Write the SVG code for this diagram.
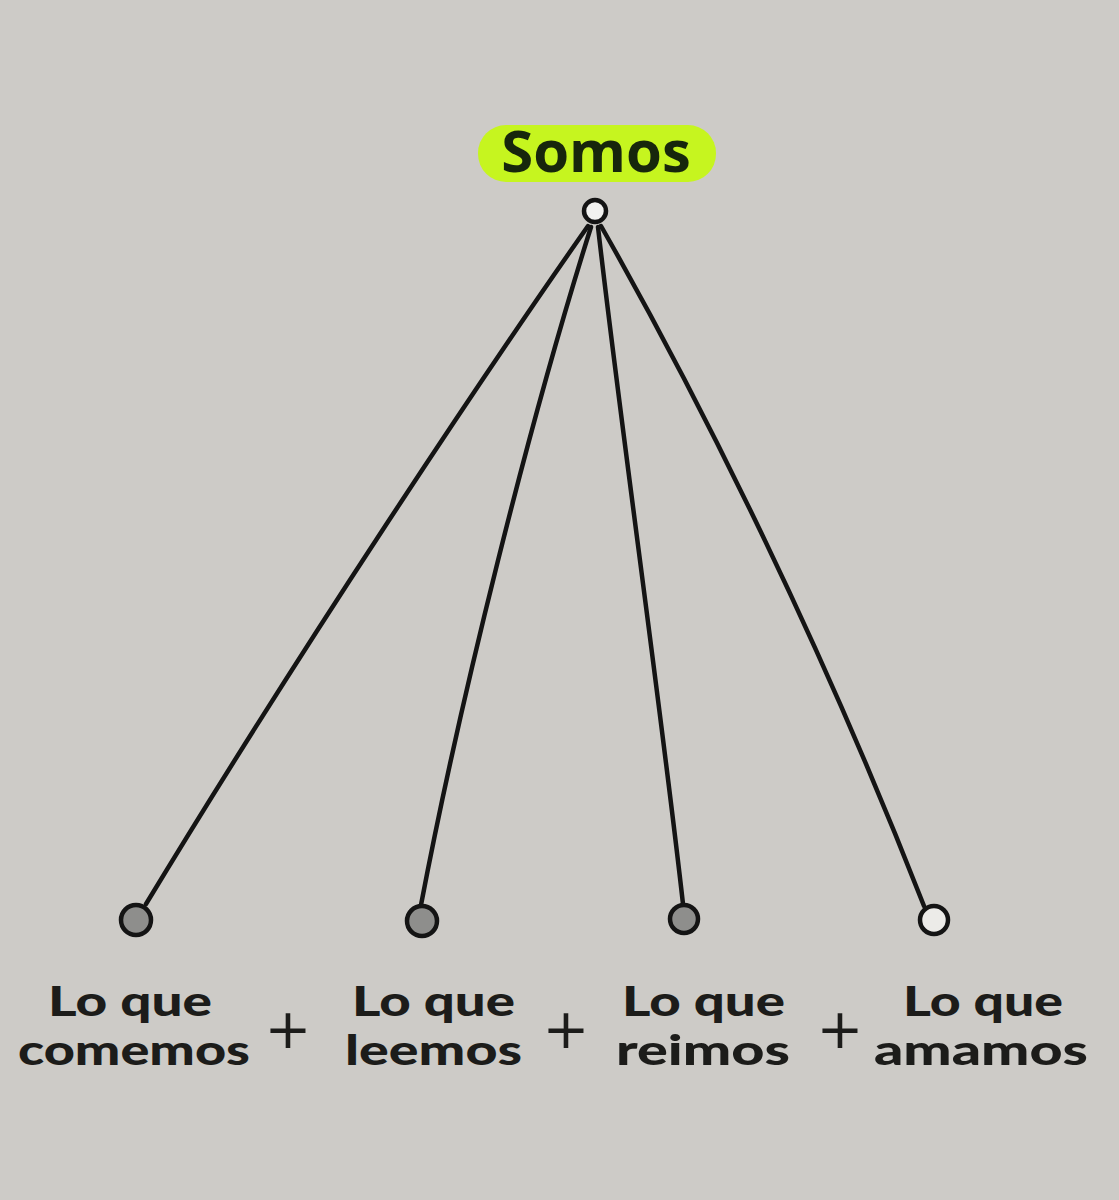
<svg xmlns="http://www.w3.org/2000/svg" width="1119" height="1200" viewBox="0 0 1119 1200">
<style>
.lbl{font-family:Lato,"Open Sans",sans-serif;font-weight:900;font-size:41px;fill:#1c1c1a}
.plus{font-family:"DejaVu Sans",sans-serif;font-size:56px;fill:#1c1c1a;text-anchor:middle}
.edge{fill:none;stroke:#141414;stroke-width:4.5;stroke-linecap:round}
.dot{stroke:#141414;stroke-width:4.5}
</style>
<rect width="1119" height="1200" fill="#cdcbc7"/>
<g id="connectors">
<path class="edge" d="M588 226 C 480 380, 300 650, 146 904"/>
<path class="edge" d="M591 227 C 530 420, 460 700, 421 905"/>
<path class="edge" d="M598 227 C 620 420, 660 700, 683 904"/>
<path class="edge" d="M601 226 C 700 400, 820 640, 924 906"/>
</g>
<g id="somos">
<rect x="478" y="125" width="238" height="57" rx="28" fill="#c6f51f"/>
<text x="596" y="172" style="font-family:'Open Sans','Noto Sans',sans-serif;font-weight:700;font-size:58px;fill:#17260c;text-anchor:middle">Somos</text>
<circle class="dot" cx="595" cy="211" r="11" fill="#f2f2f0"/>
</g>
<g id="n1">
<circle class="dot" cx="136" cy="920" r="15" fill="#8e8e8c"/>
<text class="lbl" x="48" y="1016" textLength="164" lengthAdjust="spacingAndGlyphs">Lo que</text>
<text class="lbl" x="18" y="1065" textLength="232" lengthAdjust="spacingAndGlyphs">comemos</text>
</g>
<g id="n2">
<circle class="dot" cx="422" cy="921" r="15" fill="#8e8e8c"/>
<text class="lbl" x="352" y="1016" textLength="163" lengthAdjust="spacingAndGlyphs">Lo que</text>
<text class="lbl" x="345" y="1065" textLength="177" lengthAdjust="spacingAndGlyphs">leemos</text>
</g>
<g id="n3">
<circle class="dot" cx="684" cy="919" r="14" fill="#8e8e8c"/>
<text class="lbl" x="622" y="1016" textLength="163" lengthAdjust="spacingAndGlyphs">Lo que</text>
<text class="lbl" x="616" y="1065" textLength="174" lengthAdjust="spacingAndGlyphs">reimos</text>
</g>
<g id="n4">
<circle class="dot" cx="934" cy="920" r="14" fill="#ecebe8"/>
<text class="lbl" x="903" y="1016" textLength="160" lengthAdjust="spacingAndGlyphs">Lo que</text>
<text class="lbl" x="874" y="1065" textLength="214" lengthAdjust="spacingAndGlyphs">amamos</text>
</g>
<g id="plus">
<text class="plus" x="288" y="1048">+</text>
<text class="plus" x="566" y="1048">+</text>
<text class="plus" x="840" y="1048">+</text>
</g>
</svg>
